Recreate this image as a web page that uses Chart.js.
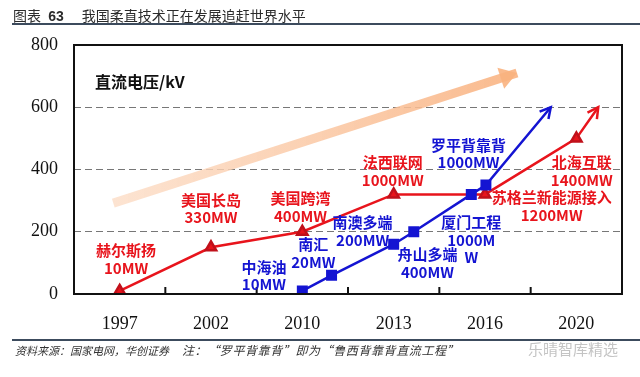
<!DOCTYPE html>
<html>
<head>
<meta charset="utf-8">
<script src="https://cdn.jsdelivr.net/npm/chart.js@4/dist/chart.umd.min.js"></script>
<style>
  html, body { margin: 0; padding: 0; background: #fff; }
  #wrap { position: relative; width: 640px; height: 377px; overflow: hidden; }
  #chart { position: absolute; left: 0; top: 0; }
  .title { position: absolute; left: 13px; top: 5px; font: 14px "Noto Sans CJK SC", sans-serif; color: #2b2b2b; white-space: nowrap; }
  .title b { font-family: "Liberation Sans", Arial, sans-serif; margin: 0 18px 0 4px; }
  .rule { position: absolute; left: 12px; right: 0; height: 2px; background: #3c4b5d; }
  .foot { position: absolute; top: 342px; font: italic 11px "Noto Sans CJK SC", sans-serif; color: #333; white-space: nowrap; }
  .mark { position: absolute; left: 528px; top: 338px; font: 15px "Noto Sans CJK SC", sans-serif; color: #c4c4c4; }
</style>
</head>
<body>
<div id="wrap">
  <canvas id="chart" width="640" height="377"></canvas>
  <div class="title">图表 <b>63</b>我国柔直技术正在发展追赶世界水平</div>
  <div class="rule" style="top:23px"></div>
  <div class="rule" style="top:339px"></div>
  <div class="foot" style="left:15px">资料来源：国家电网，华创证券</div>
  <div class="foot" style="left:182px; font-size:12px; letter-spacing:0.6px; top:341px">注：“罗平背靠背”即为“鲁西背靠背直流工程”</div>
  <div class="mark">乐晴智库精选</div>
</div>
<script>
// x positions are in "category slots": slot i is centred at i + 0.5
const years = ["1997", "2002", "2010", "2013", "2016", "2020"];
const yTicks = [0, 200, 400, 600, 800];

// red line (foreign projects), last point is the arrow tip
const redX = [0.5, 1.5, 2.5, 3.5, 4.5, 5.5, 5.74];
const redY = [10, 150, 200, 320, 320, 500, 600];

// blue line (domestic projects), last point is the arrow tip
const blueX = [2.5, 2.82, 3.5, 3.72, 4.35, 4.51, 5.22];
const blueY = [10, 60, 160, 200, 320, 350, 600];

// the big trend arrow in the background
const trendX = [0.43, 4.85];
const trendY = [292, 710];

const RED = "#e8141c";
const BLUE = "#1414d2";

// project labels, anchored at the centre of each text block
const notes = [
    { x: 0.57, y: 112, lines: ["赫尔斯扬", "10MW"], color: RED },
    { x: 1.50, y: 273, lines: ["美国长岛", "330MW"], color: RED },
    { x: 2.48, y: 278, lines: ["美国跨湾", "400MW"], color: RED },
    { x: 3.49, y: 395, lines: ["法西联网", "1000MW"], color: RED },
    { x: 5.56, y: 395, lines: ["北海互联", "1400MW"], color: RED },
    { x: 5.23, y: 281, lines: ["苏格兰新能源接入", "1200MW"], color: RED },
    { x: 4.32, y: 450, lines: ["罗平背靠背", "1000MW"], color: BLUE },
    { x: 4.35, y: 173, lines: ["厦门工程", "1000M", "W"], color: BLUE },
    { x: 3.87, y: 98, lines: ["舟山多端", "400MW"], color: BLUE },
    { x: 3.16, y: 201, lines: ["南澳多端", "200MW"], color: BLUE },
    { x: 2.62, y: 130, lines: ["南汇", "20MW"], color: BLUE },
    { x: 2.08, y: 58, lines: ["中海油", "10MW"], color: BLUE }
];

const toPoints = (xs, ys) => xs.map((x, i) => ({ x: x, y: ys[i] }));
const lastHidden = (n, r) => Array.from({ length: n }, (_, i) => (i === n - 1 ? 0 : r));

const decor = {
    id: "decor",
    afterDatasetsDraw(chart) {
        const ctx = chart.ctx;
        const a = chart.chartArea;
        const xs = chart.scales.x, ys = chart.scales.y;
        ctx.save();

        // arrow heads
        chart.data.datasets.forEach((ds, i) => {
            if (!ds.arrow) return;
            const pts = chart.getDatasetMeta(i).data;
            const p = pts[pts.length - 1], q = pts[pts.length - 2];
            const ang = Math.atan2(p.y - q.y, p.x - q.x);
            ctx.beginPath();
            if (ds.arrow === "fill") {
                const len = 17, w = 11;
                ctx.moveTo(p.x, p.y);
                ctx.lineTo(p.x - len * Math.cos(ang) + w * Math.sin(ang), p.y - len * Math.sin(ang) - w * Math.cos(ang));
                ctx.lineTo(p.x - len * Math.cos(ang) - w * Math.sin(ang), p.y - len * Math.sin(ang) + w * Math.cos(ang));
                ctx.closePath();
                ctx.fillStyle = "rgba(249,178,128,0.9)";
                ctx.fill();
            } else {
                const len = 12, spread = 0.5;
                ctx.moveTo(p.x - len * Math.cos(ang - spread), p.y - len * Math.sin(ang - spread));
                ctx.lineTo(p.x, p.y);
                ctx.lineTo(p.x - len * Math.cos(ang + spread), p.y - len * Math.sin(ang + spread));
                ctx.strokeStyle = ds.borderColor;
                ctx.lineWidth = 2.5;
                ctx.lineJoin = "miter";
                ctx.stroke();
            }
        });

        // frame
        ctx.strokeStyle = "#111";
        ctx.lineWidth = 2;
        ctx.strokeRect(a.left, a.top, a.right - a.left, a.bottom - a.top);

        // inward tick marks between the year slots
        for (let i = 1; i < years.length; i++) {
            const x = xs.getPixelForValue(i);
            ctx.beginPath();
            ctx.moveTo(x, a.bottom);
            ctx.lineTo(x, a.bottom - 7);
            ctx.stroke();
        }

        // axis caption
        ctx.fillStyle = "#111";
        ctx.font = "bold 16px 'Noto Sans CJK SC', sans-serif";
        ctx.textAlign = "left";
        ctx.textBaseline = "middle";
        ctx.fillText("直流电压/kV", xs.getPixelForValue(0.23), ys.getPixelForValue(681));

        // project labels
        ctx.font = "bold 15px 'Noto Sans CJK SC', sans-serif";
        ctx.textAlign = "center";
        notes.forEach(n => {
            const cx = xs.getPixelForValue(n.x);
            const cy = ys.getPixelForValue(n.y);
            const lh = 17.5;
            const top = cy - (n.lines.length - 1) * lh / 2;
            ctx.fillStyle = n.color;
            n.lines.forEach((t, k) => ctx.fillText(t, cx, top + k * lh));
        });
        ctx.restore();
    }
};

const ctx = document.getElementById("chart").getContext("2d");
const chart = new Chart(ctx, {
    type: "line",
    data: {
        datasets: [
            {
                data: toPoints(redX, redY),
                borderColor: RED,
                backgroundColor: RED,
                borderWidth: 2.5,
                pointStyle: "triangle",
                pointRadius: lastHidden(redX.length, 6),
                pointBorderColor: "#c0101a",
                pointBackgroundColor: RED,
                arrow: "line",
                order: 1
            },
            {
                data: toPoints(blueX, blueY),
                borderColor: BLUE,
                backgroundColor: BLUE,
                borderWidth: 2.5,
                pointStyle: "rect",
                pointRadius: lastHidden(blueX.length, 6),
                pointBorderColor: BLUE,
                pointBackgroundColor: BLUE,
                arrow: "line",
                order: 0
            },
            {
                data: toPoints(trendX, trendY),
                borderColor: c => {
                    const a = c.chart.chartArea;
                    if (!a) return "rgba(249,178,128,0.8)";
                    const g = c.chart.ctx.createLinearGradient(a.left + 30, 0, a.left + 450, 0);
                    g.addColorStop(0, "rgba(252,222,200,0.8)");
                    g.addColorStop(1, "rgba(249,178,128,0.9)");
                    return g;
                },
                borderWidth: 9,
                borderCapStyle: "butt",
                pointRadius: 0,
                arrow: "fill",
                order: 5
            }
        ]
    },
    options: {
        responsive: false,
        animation: false,
        layout: { padding: { left: 0, top: 45, right: 18, bottom: 0 } },
        plugins: { legend: { display: false }, tooltip: { enabled: false } },
        scales: {
            x: {
                type: "linear",
                min: 0,
                max: years.length,
                afterBuildTicks: s => { s.ticks = years.map((_, i) => ({ value: i + 0.5 })); },
                afterFit: s => { s.height = 83; },
                grid: { display: false },
                border: { display: false },
                ticks: {
                    autoSkip: false,
                    maxRotation: 0,
                    padding: 11,
                    color: "#111",
                    font: { family: "'Liberation Serif', serif", size: 18 },
                    callback: (v, i) => years[i]
                }
            },
            y: {
                min: 0,
                max: 800,
                afterBuildTicks: s => { s.ticks = yTicks.map(v => ({ value: v })); },
                afterFit: s => { s.width = 74; },
                grid: { color: "#777", lineWidth: 1, drawTicks: false },
                border: { display: false, dash: [7, 4] },
                ticks: {
                    padding: 16,
                    color: "#111",
                    font: { family: "'Liberation Serif', serif", size: 18 }
                }
            }
        }
    },
    plugins: [decor]
});
</script>
</body>
</html>
